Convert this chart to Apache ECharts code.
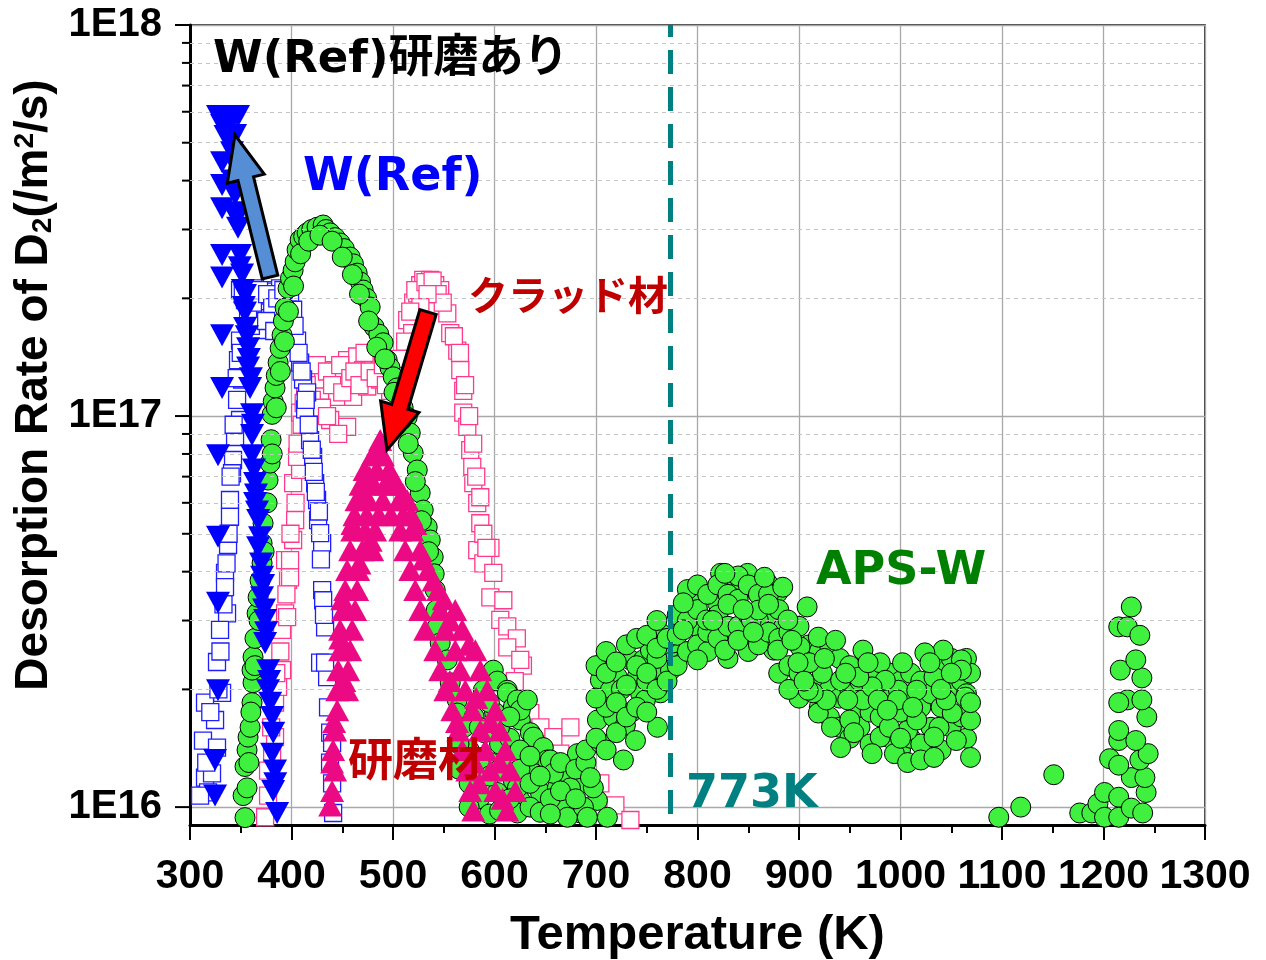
<!DOCTYPE html>
<html>
<head>
<meta charset="utf-8">
<script src="https://cdn.jsdelivr.net/npm/echarts@6/dist/echarts.min.js"></script>
<style>
  html, body { margin: 0; padding: 0; background: #fff; }
  #main { width: 1266px; height: 960px; }
</style>
</head>
<body>
<div id="main"></div>
<script>
// W(Ref) 研磨あり: filled down-triangles [T (K), rate (/m2/s)]
const refFilled = [
  [327.6, 5.85e17], [331.6, 5.85e17], [335.5, 5.85e17], [339.4, 5.85e17], [343.4, 5.85e17], [347.3, 5.85e17],
  [331.6, 5.55e17], [337.5, 5.55e17], [344.4, 5.23e17], [331.6, 4.46e17], [341.4, 4.73e17], [331.6, 3.90e17],
  [344.4, 3.68e17], [331.6, 3.40e17], [344.4, 3.32e17], [347.3, 3.03e17], [331.6, 2.58e17], [349.3, 2.58e17],
  [331.6, 2.26e17], [351.3, 2.30e17], [354.2, 2.04e17], [354.2, 1.84e17], [331.6, 1.61e17], [354.2, 1.68e17],
  [357.2, 1.49e17], [357.2, 1.33e17], [331.6, 1.18e17], [359.2, 1.18e17], [361.1, 1.01e17], [361.1, 8.94e16],
  [327.6, 7.94e16], [361.1, 7.94e16], [364.1, 6.74e16], [364.1, 5.99e16], [327.6, 4.91e16], [367.1, 5.42e16],
  [367.1, 4.62e16], [371.0, 3.88e16], [327.6, 3.33e16], [371.0, 3.44e16], [374.0, 3.01e16], [374.0, 2.63e16],
  [376.9, 2.24e16], [376.9, 1.99e16], [327.6, 1.99e16], [380.9, 1.70e16], [324.7, 1.32e16], [380.9, 1.37e16],
  [383.8, 1.24e16], [324.7, 1.07e16], [381.9, 1.10e16], [385.8, 9.66e15],
  [349.0, 2.40e17], [352.0, 2.10e17], [353.0, 1.90e17], [356.0, 1.60e17], [358.0, 1.40e17], [360.0, 1.25e17],
  [362.0, 9.50e16], [363.0, 7.30e16], [365.0, 6.30e16], [366.0, 5.70e16], [369.0, 4.90e16], [370.0, 4.20e16],
  [372.0, 3.70e16], [373.0, 3.20e16], [375.0, 2.80e16], [378.0, 2.10e16], [379.0, 1.85e16], [382.0, 1.55e16],
  [384.0, 1.15e16], [346.0, 3.20e17], [342.0, 4.00e17], [346.0, 4.30e17], [340.0, 5.00e17], [335.0, 5.20e17]
];

// W(Ref): open blue squares
const refOpen = [
  [349.3, 2.10e17], [354.2, 1.98e17], [359.2, 2.08e17], [364.1, 2.12e17], [369.0, 2.04e17], [374.0, 2.10e17],
  [378.9, 1.98e17], [383.8, 2.08e17], [388.8, 2.12e17], [393.7, 2.00e17], [398.6, 2.06e17], [371.0, 1.84e17],
  [378.9, 1.78e17], [386.8, 1.87e17], [357.2, 1.81e17], [396.6, 1.87e17], [366.1, 1.66e17], [391.7, 1.71e17],
  [349.3, 1.56e17], [347.3, 1.39e17], [351.3, 1.24e17], [346.4, 1.10e17], [349.3, 9.77e16], [344.4, 8.84e16],
  [342.4, 7.72e16], [341.4, 7.14e16], [339.4, 6.10e16], [339.4, 5.52e16], [337.5, 4.68e16], [334.5, 3.97e16],
  [334.5, 3.65e16], [336.5, 3.13e16], [329.6, 2.84e16], [326.6, 2.35e16], [331.6, 1.96e16], [314.8, 1.85e16],
  [324.7, 1.67e16], [312.8, 1.48e16], [326.6, 1.42e16], [314.8, 1.19e16], [321.7, 1.22e16], [317.8, 1.09e16],
  [309.9, 1.07e16],
  [401.6, 1.87e17], [405.5, 1.56e17], [408.5, 1.37e17], [411.4, 1.24e17], [415.4, 1.15e17], [413.4, 1.04e17],
  [418.3, 8.68e16], [421.3, 7.86e16], [423.3, 6.74e16], [425.2, 6.10e16], [426.2, 5.42e16], [430.2, 4.73e16],
  [428.2, 5.02e16], [430.2, 3.59e16], [431.2, 3.38e16], [433.1, 2.88e16], [428.2, 2.34e16], [435.1, 2.15e16],
  [433.1, 2.34e16], [438.1, 1.55e16], [440.0, 1.46e16], [440.0, 1.15e16], [441.0, 9.66e15],
  [352.0, 2.05e17], [362.0, 1.95e17], [368.0, 2.10e17], [376.0, 2.05e17], [381.0, 1.90e17], [386.0, 2.00e17],
  [392.0, 2.10e17], [360.0, 1.70e17], [375.0, 1.75e17], [383.0, 1.65e17], [395.0, 1.80e17],
  [346.0, 1.25e17], [350.0, 1.45e17], [343.0, 9.50e16], [340.0, 7.00e16], [338.0, 5.00e16], [336.0, 4.20e16],
  [333.0, 3.30e16], [330.0, 2.50e16], [328.0, 2.00e16], [320.0, 1.75e16], [316.0, 1.30e16],
  [403.0, 1.70e17], [407.0, 1.45e17], [410.0, 1.30e17], [414.0, 1.10e17], [417.0, 9.50e16], [420.0, 8.20e16],
  [422.0, 7.20e16], [424.0, 6.40e16], [427.0, 5.70e16], [429.0, 4.30e16], [432.0, 3.10e16], [436.0, 1.80e16],
  [438.0, 1.30e16]
];

// クラッド材: open pink squares
const cladPts = [
  [374.0, 9.42e15], [376.9, 1.07e16], [376.9, 1.24e16], [380.9, 1.37e16], [383.8, 1.51e16], [383.8, 1.85e16],
  [386.8, 2.03e16], [390.7, 2.24e16], [390.7, 2.84e16], [393.7, 3.13e16], [396.6, 3.81e16], [393.7, 4.28e16],
  [395.7, 3.06e16], [398.6, 4.28e16], [398.6, 3.87e16], [401.6, 4.82e16], [403.6, 5.42e16], [401.6, 6.74e16],
  [408.5, 7.28e16], [405.5, 7.86e16], [411.4, 9.06e16], [408.5, 1.02e17], [413.4, 1.15e17],
  [418.3, 1.04e17], [421.3, 1.31e17], [428.2, 1.16e17], [431.2, 1.24e17], [438.1, 9.77e16], [441.0, 1.31e17],
  [445.0, 1.12e17], [454.8, 1.39e17], [454.8, 9.38e16], [460.7, 1.12e17], [464.7, 1.42e17], [470.6, 1.31e17],
  [474.6, 1.19e17], [480.5, 1.37e17], [487.4, 1.24e17], [487.4, 1.42e17], [497.2, 1.16e17], [500.2, 1.37e17],
  [510.1, 1.24e17], [515.0, 1.42e17], [514.0, 1.76e17], [518.9, 1.63e17], [519.9, 1.95e17], [523.9, 2.06e17],
  [526.8, 2.16e17], [529.8, 2.23e17], [536.7, 2.23e17], [541.6, 2.16e17], [546.5, 2.10e17], [553.5, 1.83e17],
  [556.4, 1.63e17], [563.3, 1.47e17], [566.3, 1.31e17], [569.2, 1.16e17], [569.2, 1.02e17], [573.2, 9.38e16],
  [576.1, 8.18e16], [578.1, 7.41e16], [579.1, 6.74e16], [583.0, 5.99e16], [586.0, 5.32e16], [583.0, 4.54e16],
  [589.0, 4.20e16], [596.0, 4.60e16], [598.8, 3.97e16], [595.9, 3.44e16], [608.7, 3.38e16], [605.7, 3.01e16],
  [612.6, 2.90e16], [622.0, 2.70e16], [612.6, 2.56e16], [628.0, 2.30e16], [620.0, 2.10e16], [625.4, 2.38e16],
  [630.0, 1.74e16], [635.3, 1.74e16], [645.2, 1.60e16], [658.0, 1.51e16], [664.9, 1.37e16], [674.8, 1.60e16],
  [704.3, 1.15e16], [719.1, 1.01e16], [733.9, 9.27e15],
  [415.0, 1.20e17], [420.0, 1.10e17], [425.0, 1.35e17], [430.0, 1.05e17], [435.0, 1.30e17], [440.0, 1.20e17],
  [448.0, 1.35e17], [450.0, 1.15e17], [458.0, 1.25e17], [462.0, 1.30e17], [467.0, 1.20e17], [472.0, 1.45e17],
  [477.0, 1.30e17], [483.0, 1.25e17], [490.0, 1.35e17], [493.0, 1.20e17], [503.0, 1.30e17], [507.0, 1.40e17],
  [435.0, 1.00e17], [446.0, 9.00e16],
  [522.0, 2.10e17], [532.0, 2.20e17], [539.0, 2.22e17], [544.0, 2.05e17], [549.0, 1.95e17], [534.0, 2.05e17],
  [527.0, 1.90e17], [517.0, 1.85e17], [512.0, 1.55e17],
  [560.0, 1.60e17], [566.0, 1.45e17], [571.0, 1.20e17], [575.0, 1.00e17], [579.0, 8.50e16], [582.0, 7.00e16],
  [586.0, 6.20e16], [589.0, 5.00e16], [592.0, 4.60e16],
  [389.0, 2.50e16], [395.0, 3.50e16], [399.0, 5.00e16], [404.0, 6.00e16], [406.0, 8.50e16], [410.0, 9.50e16],
  [412.0, 1.08e17], [380.0, 1.60e16], [385.0, 2.20e16]
];

// 研磨材: filled pink triangles
const polishPts = [
  [487.4, 8.68e16], [480.0, 7.94e16], [490.0, 7.94e16], [472.0, 7.28e16], [484.0, 7.28e16], [496.0, 7.28e16],
  [468.0, 6.67e16], [480.0, 6.67e16], [492.0, 6.67e16], [504.0, 6.67e16], [464.0, 6.09e16], [476.0, 6.09e16],
  [490.0, 6.09e16], [506.0, 6.09e16], [514.0, 6.09e16], [462.0, 5.58e16], [474.0, 5.58e16], [486.0, 5.58e16],
  [498.0, 5.58e16], [510.0, 5.58e16], [518.0, 5.58e16],
  [459.8, 5.10e16], [472.6, 5.10e16], [482.4, 5.10e16], [457.8, 4.54e16], [469.6, 4.54e16], [479.5, 4.54e16],
  [454.8, 4.04e16], [465.7, 4.04e16], [452.9, 3.59e16], [464.7, 3.59e16], [450.9, 3.19e16], [462.7, 3.19e16],
  [447.9, 2.84e16], [459.8, 2.84e16], [447.9, 2.52e16], [457.8, 2.52e16], [446.0, 2.24e16], [455.8, 2.24e16],
  [445.0, 1.99e16], [454.8, 1.99e16], [445.0, 1.77e16], [443.0, 1.57e16], [441.0, 1.40e16], [443.0, 1.24e16],
  [438.1, 1.01e16],
  [507.1, 5.10e16], [518.9, 5.10e16], [512.0, 4.54e16], [526.8, 4.54e16], [517.0, 4.04e16], [534.7, 4.04e16],
  [521.9, 3.59e16], [544.6, 3.59e16], [526.8, 3.19e16], [546.5, 3.19e16], [561.3, 3.19e16], [531.8, 2.84e16],
  [551.5, 2.84e16], [568.2, 2.84e16], [541.6, 2.52e16], [561.3, 2.52e16], [581.1, 2.52e16], [546.5, 2.24e16],
  [566.3, 2.24e16], [586.0, 2.24e16], [551.5, 1.99e16], [571.2, 1.99e16], [592.9, 1.99e16], [558.4, 1.77e16],
  [578.1, 1.77e16], [600.8, 1.77e16], [564.3, 1.57e16], [586.0, 1.57e16], [605.7, 1.57e16], [568.2, 1.40e16],
  [590.9, 1.40e16], [610.7, 1.40e16], [573.2, 1.24e16], [595.9, 1.24e16], [615.6, 1.24e16], [576.1, 1.10e16],
  [600.8, 1.10e16], [620.5, 1.10e16], [579.1, 9.80e15], [612.6, 9.80e15],
  [484.0, 8.30e16], [477.0, 7.00e16], [500.0, 7.00e16], [470.0, 6.30e16], [510.0, 6.30e16], [460.0, 5.30e16],
  [522.0, 5.30e16], [478.0, 4.80e16], [467.0, 4.20e16], [530.0, 4.30e16], [540.0, 3.80e16], [550.0, 3.40e16],
  [556.0, 3.00e16], [575.0, 2.60e16], [556.0, 2.10e16], [582.0, 1.90e16], [563.0, 1.65e16], [596.0, 1.65e16],
  [580.0, 1.30e16], [605.0, 1.30e16], [585.0, 1.15e16], [608.0, 1.05e16], [450.0, 3.40e16], [448.0, 2.70e16],
  [452.0, 2.10e16], [442.0, 1.65e16], [440.0, 1.30e16], [440.0, 1.10e16]
];

// APS-W: green circles
const apsPts = [
  [354.2, 9.4e15], [352.3, 1.07e16], [356.2, 1.12e16], [354.2, 1.27e16], [356.2, 1.40e16], [357.2, 1.51e16],
  [359.2, 1.60e16], [361.1, 1.85e16], [362.1, 2.08e16], [361.1, 2.24e16], [362.1, 2.42e16], [364.0, 2.70e16],
  [366.1, 3.13e16], [367.1, 3.44e16], [369.0, 3.80e16], [371.0, 4.21e16], [371.0, 4.73e16], [372.0, 5.32e16],
  [374.0, 5.99e16], [376.9, 6.86e16], [378.9, 7.58e16], [379.9, 8.70e16], [380.9, 1.01e17], [382.0, 1.09e17],
  [383.8, 1.18e17], [385.0, 1.27e17], [386.8, 1.37e17], [388.8, 1.49e17], [390.7, 1.61e17], [392.0, 1.75e17],
  [393.7, 1.89e17], [396.6, 2.12e17], [399.0, 2.25e17], [401.6, 2.36e17], [403.6, 2.48e17], [405.5, 2.66e17],
  [408.5, 2.82e17], [412.0, 2.88e17], [415.4, 2.94e17], [420.0, 3.00e17], [425.2, 3.04e17], [431.2, 3.08e17],
  [434.0, 3.00e17], [438.1, 2.94e17], [443.0, 2.86e17], [447.9, 2.77e17], [452.0, 2.68e17], [457.8, 2.55e17],
  [461.0, 2.45e17], [464.7, 2.32e17], [468.0, 2.20e17], [470.6, 2.10e17], [474.0, 2.00e17], [477.5, 1.90e17],
  [481.4, 1.69e17], [486.0, 1.62e17], [490.3, 1.54e17], [494.3, 1.39e17], [497.0, 1.33e17], [500.2, 1.26e17],
  [504.0, 1.18e17], [507.1, 1.12e17], [510.0, 1.05e17], [514.0, 9.94e16], [517.0, 9.05e16], [519.9, 8.04e16],
  [523.9, 7.28e16], [526.8, 6.36e16], [529.8, 5.75e16], [533.7, 5.20e16], [536.7, 4.82e16], [539.6, 4.36e16],
  [540.6, 3.95e16], [541.6, 3.59e16], [542.6, 3.19e16], [543.6, 2.89e16], [546.5, 2.63e16], [553.5, 2.38e16],
  [556.4, 2.08e16], [563.3, 1.88e16], [563.3, 1.74e16],
  [358.0, 1.30e16], [360.0, 1.75e16], [364.0, 2.30e16], [368.0, 3.00e16], [373.0, 4.50e16], [376.0, 6.00e16],
  [381.0, 8.00e16], [385.0, 1.05e17], [389.0, 1.30e17], [393.0, 1.55e17], [397.0, 1.85e17], [402.0, 2.15e17],
  [409.0, 2.60e17], [417.0, 2.80e17], [428.0, 2.90e17], [440.0, 2.80e17], [450.0, 2.55e17], [460.0, 2.30e17],
  [467.0, 2.05e17], [476.0, 1.75e17], [484.0, 1.50e17], [492.0, 1.40e17], [501.0, 1.15e17], [509.0, 9.80e16],
  [515.0, 8.50e16], [522.0, 6.80e16], [528.0, 5.40e16], [535.0, 4.50e16],
  [589.0, 1.99e16], [598.8, 2.24e16], [602.8, 2.10e16], [612.6, 1.99e16], [612.6, 1.96e16], [618.5, 1.80e16],
  [622.5, 1.88e16], [625.4, 1.67e16], [625.4, 1.77e16], [632.4, 1.88e16], [635.3, 1.55e16], [638.3, 1.51e16],
  [648.1, 1.42e16], [652.1, 1.32e16], [655.0, 1.32e16], [667.9, 1.22e16], [684.6, 1.15e16], [701.4, 1.04e16],
  [618.5, 1.17e16], [625.4, 1.04e16], [645.2, 1.09e16], [664.9, 1.00e16], [684.6, 9.66e15], [711.2, 9.42e15],
  [622.5, 9.66e15], [608.7, 1.00e16], [602.8, 1.09e16], [622.5, 1.12e16], [638.3, 1.22e16], [661.9, 1.12e16],
  [671.8, 1.22e16], [671.8, 9.42e15], [687.6, 1.00e16], [697.4, 1.12e16], [681.7, 1.37e16], [674.8, 1.12e16],
  [691.5, 9.42e15], [658.0, 1.22e16], [596.0, 1.30e16], [605.0, 1.45e16], [615.0, 1.50e16], [580.0, 1.70e16],
  [590.0, 1.55e16], [600.0, 1.75e16], [570.0, 1.60e16], [575.0, 1.40e16], [585.0, 1.05e16], [595.0, 9.60e15],
  [580.0, 1.25e16],
  [565.0, 1.45e16], [565.0, 1.25e16], [575.0, 1.15e16], [575.0, 1.00e16], [585.0, 1.30e16], [585.0, 1.60e16],
  [595.0, 1.20e16], [595.0, 1.85e16], [605.0, 1.25e16], [605.0, 1.60e16], [605.0, 9.80e15], [615.0, 1.05e16],
  [615.0, 1.35e16], [615.0, 1.70e16], [625.0, 1.40e16], [625.0, 1.25e16], [635.0, 1.15e16], [635.0, 1.35e16],
  [635.0, 1.00e16], [645.0, 1.20e16], [645.0, 9.70e15], [655.0, 1.05e16], [655.0, 9.60e15], [665.0, 1.10e16],
  [665.0, 1.30e16], [680.0, 1.05e16], [680.0, 1.25e16], [690.0, 1.30e16], [690.0, 1.40e16],
  [694.5, 1.19e16], [704.3, 1.46e16], [701.4, 1.67e16], [717.2, 1.70e16], [721.1, 2.15e16], [717.2, 1.91e16],
  [727.0, 1.32e16], [733.9, 2.38e16], [740.8, 2.15e16], [743.8, 1.96e16], [746.7, 2.38e16], [753.6, 2.52e16],
  [756.6, 2.72e16], [763.5, 2.79e16], [756.6, 2.24e16], [763.5, 1.96e16], [760.5, 1.60e16], [770.4, 2.48e16],
  [776.3, 2.63e16], [773.4, 2.24e16], [783.2, 2.89e16], [790.1, 3.25e16], [796.0, 3.44e16], [800.0, 2.89e16],
  [815.8, 2.63e16], [819.7, 3.33e16], [822.7, 3.96e16], [832.6, 3.59e16], [842.4, 3.81e16], [849.3, 3.96e16],
  [859.2, 3.53e16], [869.0, 3.74e16], [872.0, 3.06e16], [875.0, 2.52e16], [878.9, 3.53e16], [884.8, 2.89e16],
  [729.0, 1.62e16], [738.9, 1.48e16], [748.7, 1.88e16], [704.3, 2.11e16], [714.2, 1.99e16], [710.0, 1.80e16],
  [725.0, 2.00e16], [735.0, 1.75e16], [750.0, 2.10e16], [760.0, 2.40e16], [765.0, 2.60e16],
  [700.0, 1.50e16], [700.0, 1.90e16], [700.0, 2.30e16], [710.0, 1.40e16], [710.0, 2.20e16], [710.0, 2.50e16],
  [720.0, 1.55e16], [720.0, 1.85e16], [720.0, 2.35e16], [730.0, 1.70e16], [730.0, 2.05e16], [730.0, 2.60e16],
  [740.0, 1.80e16], [740.0, 2.30e16], [740.0, 2.70e16], [750.0, 1.75e16], [750.0, 2.20e16], [750.0, 2.75e16],
  [760.0, 2.00e16], [760.0, 2.55e16], [760.0, 3.00e16], [770.0, 2.10e16], [770.0, 2.70e16], [780.0, 2.30e16],
  [780.0, 2.75e16], [780.0, 3.10e16], [790.0, 2.50e16], [790.0, 3.00e16], [790.0, 3.60e16], [800.0, 2.60e16],
  [800.0, 3.20e16], [800.0, 3.70e16], [810.0, 2.50e16], [810.0, 2.80e16], [810.0, 3.50e16], [820.0, 2.70e16],
  [820.0, 3.10e16], [820.0, 3.70e16], [830.0, 2.40e16], [830.0, 2.90e16], [830.0, 3.50e16], [840.0, 2.90e16],
  [840.0, 3.40e16], [840.0, 3.90e16], [850.0, 2.50e16], [850.0, 3.10e16], [850.0, 3.70e16], [860.0, 2.60e16],
  [860.0, 3.00e16], [860.0, 3.50e16], [870.0, 2.80e16], [870.0, 3.50e16], [880.0, 2.20e16], [880.0, 2.70e16],
  [880.0, 3.20e16], [890.0, 2.30e16], [890.0, 2.80e16], [900.0, 1.90e16], [900.0, 2.20e16], [900.0, 2.90e16],
  [910.0, 2.00e16], [910.0, 2.60e16], [920.0, 1.80e16], [920.0, 2.10e16], [920.0, 2.50e16], [930.0, 1.70e16],
  [930.0, 2.00e16], [930.0, 2.60e16], [940.0, 1.60e16], [940.0, 1.90e16], [940.0, 2.40e16], [950.0, 1.50e16],
  [950.0, 2.00e16], [950.0, 2.30e16], [960.0, 1.60e16], [960.0, 1.80e16], [960.0, 2.10e16], [970.0, 1.45e16],
  [970.0, 1.75e16], [970.0, 2.20e16], [980.0, 1.70e16], [980.0, 2.00e16], [990.0, 1.50e16], [990.0, 1.90e16],
  [990.0, 2.20e16], [1000.0, 1.40e16], [1000.0, 1.75e16], [1000.0, 2.10e16], [1010.0, 1.50e16], [1010.0, 1.90e16],
  [1010.0, 2.20e16], [1020.0, 1.45e16], [1020.0, 1.80e16], [1020.0, 2.10e16], [1030.0, 1.60e16], [1030.0, 1.95e16],
  [1040.0, 1.40e16], [1040.0, 1.80e16], [1040.0, 2.30e16], [1050.0, 1.60e16], [1050.0, 2.00e16], [1050.0, 2.40e16],
  [1060.0, 1.70e16], [1060.0, 2.10e16], [1065.0, 1.50e16], [1065.0, 1.95e16], [1065.0, 2.40e16],
  [786.0, 3.33e16], [827.0, 3.96e16], [866.0, 3.87e16], [884.0, 3.65e16], [908.0, 3.25e16], [786.0, 2.84e16],
  [809.0, 3.01e16], [827.0, 2.52e16], [853.0, 3.01e16], [879.0, 2.52e16], [901.0, 2.57e16], [919.0, 2.72e16],
  [936.0, 2.67e16], [963.0, 2.52e16], [980.0, 2.34e16], [1002.0, 2.34e16], [923.0, 2.20e16], [919.0, 1.74e16],
  [932.0, 1.60e16], [950.0, 1.67e16], [963.0, 1.88e16], [980.0, 1.51e16], [994.0, 1.37e16], [1007.0, 1.30e16],
  [1020.0, 1.32e16], [1033.0, 1.34e16], [1038.0, 1.60e16], [1051.0, 1.74e16], [1064.0, 1.91e16], [1069.0, 2.20e16],
  [1060.0, 2.38e16], [1042.0, 2.52e16], [1024.0, 2.48e16], [1033.0, 2.15e16], [998.0, 1.99e16], [985.0, 2.11e16],
  [972.0, 2.03e16], [959.0, 2.15e16], [941.0, 2.11e16], [927.0, 1.88e16], [914.0, 1.96e16], [910.0, 2.34e16],
  [893.0, 2.67e16], [1069.0, 1.67e16], [1069.0, 1.34e16], [1033.0, 1.51e16], [1007.0, 1.57e16], [989.0, 1.60e16],
  [954.0, 1.55e16], [941.0, 1.42e16], [972.0, 1.37e16], [1029.0, 2.34e16], [1060.0, 2.24e16], [1069.0, 1.85e16],
  [800.0, 2.38e16], [840.0, 2.67e16], [860.0, 3.19e16], [889.0, 3.01e16], [899.0, 2.34e16], [909.0, 1.99e16],
  [948.0, 1.88e16], [978.0, 1.88e16], [968.0, 2.34e16], [997.0, 1.88e16], [1016.0, 1.99e16], [1045.0, 1.88e16],
  [1055.0, 1.48e16], [1016.0, 1.67e16], [987.0, 1.77e16], [830.0, 3.30e16], [845.0, 3.20e16], [815.0, 3.00e16],
  [870.0, 3.30e16], [855.0, 2.80e16], [890.0, 2.00e16], [905.0, 2.10e16], [925.0, 2.40e16], [946.0, 2.20e16],
  [1000.0, 1.50e16], [1012.0, 1.80e16], [1040.0, 2.00e16], [1050.0, 2.20e16],
  [1096.8, 9.42e15], [1118.5, 1.00e16], [1151.0, 1.21e16], [1176.6, 9.66e15], [1188.5, 9.66e15], [1194.5, 1.02e16],
  [1201.0, 9.42e15], [1201.0, 1.09e16], [1206.0, 1.33e16], [1215.0, 1.06e16], [1215.0, 9.42e15], [1227.4, 9.94e15],
  [1238.6, 9.66e15], [1242.0, 1.09e16], [1227.4, 1.19e16], [1240.8, 1.19e16], [1215.0, 1.28e16], [1235.8, 1.32e16],
  [1244.0, 1.37e16], [1215.0, 1.48e16], [1215.0, 1.57e16], [1231.8, 1.48e16], [1242.7, 1.70e16], [1223.5, 1.88e16],
  [1215.0, 1.85e16], [1237.8, 1.88e16], [1216.5, 2.24e16], [1237.8, 2.14e16], [1231.8, 2.38e16], [1215.0, 2.89e16],
  [1223.5, 2.89e16], [1235.8, 2.75e16], [1227.4, 3.25e16]
];

const markTemp = 773;

const arial = "'Liberation Sans', Arial, sans-serif";
const jp = "'DejaVu Sans', 'Noto Sans CJK JP', sans-serif";

// dotted minor grid: 2..9 x 10^n
const minorVals = [];
[16, 17].forEach(e => { for (let m = 2; m <= 9; m++) minorVals.push(m * Math.pow(10, e)); });
const majorVals = [1e16, 1e17, 1e18];

const chart = echarts.init(document.getElementById('main'));

chart.setOption({
  animation: false,
  backgroundColor: '#fff',
  grid: {
    left: 190, right: 61, top: 25, bottom: 135, outerBoundsMode: 'none', containLabel: false,
    show: true, borderColor: '#000', borderWidth: 1.5
  },
  xAxis: {
    type: 'value', min: 300, max: 1300, interval: 100,
    axisLine: { lineStyle: { color: '#000', width: 3 } },
    axisTick: { length: 15, lineStyle: { color: '#000', width: 2 } },
    minorTick: { show: true, splitNumber: 2, length: 8, lineStyle: { color: '#000', width: 2 } },
    splitLine: { lineStyle: { color: '#a8a8a8', width: 1.3 } },
    axisLabel: {
      color: '#000', fontFamily: arial, fontWeight: 'bold', fontSize: 41, margin: 31,
      showMinLabel: true, showMaxLabel: true, formatter: v => String(v)
    },
    name: 'Temperature (K)', nameLocation: 'middle', nameGap: 86,
    nameTextStyle: { color: '#000', fontFamily: arial, fontWeight: 'bold', fontSize: 49 }
  },
  yAxis: {
    type: 'log', logBase: 10, min: 9e15, max: 1e18,
    axisLine: { lineStyle: { color: '#000', width: 3 } },
    axisTick: { show: false },
    splitLine: { lineStyle: { color: '#a8a8a8', width: 1.3 } },
    axisLabel: {
      color: '#000', fontFamily: arial, fontWeight: 'bold', fontSize: 40, margin: 28,
      formatter: v => {
        const e = Math.log10(v);
        return Math.abs(e - Math.round(e)) < 1e-6 ? '1E' + Math.round(e) : '';
      }
    },
    name: '{a|Desorption Rate of D}{sub|2}{a|(/m}{sup|2}{a|/s)}',
    nameLocation: 'middle', nameGap: 128,
    nameTextStyle: {
      padding: [0, 0, 0, 80],
      rich: {
        a: { color: '#000', fontFamily: arial, fontWeight: 'bold', fontSize: 46 },
        sub: { color: '#000', fontFamily: arial, fontWeight: 'bold', fontSize: 28, verticalAlign: 'bottom' },
        sup: { color: '#000', fontFamily: arial, fontWeight: 'bold', fontSize: 28, verticalAlign: 'top' }
      }
    }
  },
  series: [
    {
      type: 'scatter', data: [], silent: true, z: 1,
      markLine: {
        silent: true, symbol: 'none', animation: false,
        label: { show: false },
        lineStyle: { color: '#c4c4c4', type: [4, 4], width: 1 },
        data: minorVals.map(v => ({ yAxis: v }))
      }
    },
    {
      name: 'クラッド材', type: 'scatter', data: cladPts, z: 2,
      symbol: 'rect', symbolSize: 17,
      itemStyle: { color: '#fff', borderColor: '#ff3a8c', borderWidth: 1.3, opacity: 1 }
    },
    {
      name: 'W(Ref)', type: 'scatter', data: refOpen, z: 3,
      symbol: 'rect', symbolSize: 17,
      itemStyle: { color: '#fff', borderColor: '#1e1eff', borderWidth: 1.3, opacity: 1 }
    },
    {
      name: 'APS-W', type: 'scatter', data: apsPts, z: 4,
      symbol: 'circle', symbolSize: 20,
      itemStyle: { color: '#3ff03f', borderColor: '#000', borderWidth: 1, opacity: 1 }
    },
    {
      name: '研磨材', type: 'scatter', data: polishPts, z: 5,
      symbol: 'triangle', symbolSize: [24, 22],
      itemStyle: { color: '#ec0a84', opacity: 1 }
    },
    {
      name: 'W(Ref)研磨あり', type: 'scatter', data: refFilled, z: 6,
      symbol: 'triangle', symbolSize: [24, 22], symbolRotate: 180,
      itemStyle: { color: '#0000ff', opacity: 1 }
    },
    {
      type: 'scatter', data: [], silent: true, z: 7,
      markLine: {
        silent: true, symbol: 'none', animation: false,
        label: { show: false },
        lineStyle: { color: '#008080', type: [24, 13], width: 5 },
        data: [[{ coord: [markTemp, 9.6e15] }, { coord: [markTemp, 1e18] }]]
      }
    }
  ]
});

function arrowPts(tail, tip, shaftW, headW, headL) {
  const dx = tip[0] - tail[0], dy = tip[1] - tail[1];
  const len = Math.hypot(dx, dy);
  const ux = dx / len, uy = dy / len, nx = -uy, ny = ux;
  const bx = tip[0] - ux * headL, by = tip[1] - uy * headL;
  return [
    [tail[0] + nx * shaftW / 2, tail[1] + ny * shaftW / 2],
    [bx + nx * shaftW / 2, by + ny * shaftW / 2],
    [bx + nx * headW / 2, by + ny * headW / 2],
    tip,
    [bx - nx * headW / 2, by - ny * headW / 2],
    [bx - nx * shaftW / 2, by - ny * shaftW / 2],
    [tail[0] - nx * shaftW / 2, tail[1] - ny * shaftW / 2]
  ];
}

// y ticks (major and 2..9 minor) drawn outside the left axis
const axisX = chart.convertToPixel({ gridIndex: 0 }, [300, 1e17])[0];
const ticks = [];
majorVals.forEach(v => {
  const y = chart.convertToPixel({ yAxisIndex: 0 }, v);
  ticks.push({ type: 'line', z: 20, shape: { x1: axisX - 15, y1: y, x2: axisX, y2: y }, style: { stroke: '#000', lineWidth: 2 } });
});
minorVals.forEach(v => {
  const y = chart.convertToPixel({ yAxisIndex: 0 }, v);
  ticks.push({ type: 'line', z: 20, shape: { x1: axisX - 8, y1: y, x2: axisX, y2: y }, style: { stroke: '#000', lineWidth: 2 } });
});

function label(text, x, y, size, color, extra) {
  return {
    type: 'text', z: 30, x: x, y: y,
    style: Object.assign({ text: text, fill: color, font: 'bold ' + size + 'px ' + jp, align: 'left', verticalAlign: 'middle' }, extra || {})
  };
}

chart.setOption({
  graphic: ticks.concat([
    label('W(Ref)研磨あり', 213, 60, 45, '#000'),
    label('W(Ref)', 303, 178, 46, '#0000ff'),
    label('クラッド材', 468, 300, 40, '#c00000'),
    label('研磨材', 348, 764, 45, '#c00000', { shadowColor: 'rgba(0,0,0,0.45)', shadowBlur: 4, shadowOffsetX: 3, shadowOffsetY: 3 }),
    label('APS-W', 816, 572, 46, '#008000'),
    label('773K', 686, 795, 46, '#008080'),
    {
      type: 'polygon', z: 25,
      shape: { points: arrowPts([270, 277], [235, 135], 16, 38, 45) },
      style: { fill: '#558ed5', stroke: '#000', lineWidth: 3, lineJoin: 'miter' }
    },
    {
      type: 'polygon', z: 25,
      shape: { points: arrowPts([428, 312], [387, 450], 17, 40, 45) },
      style: { fill: '#ff0000', stroke: '#000', lineWidth: 3, lineJoin: 'miter' }
    }
  ])
});
</script>
</body>
</html>
